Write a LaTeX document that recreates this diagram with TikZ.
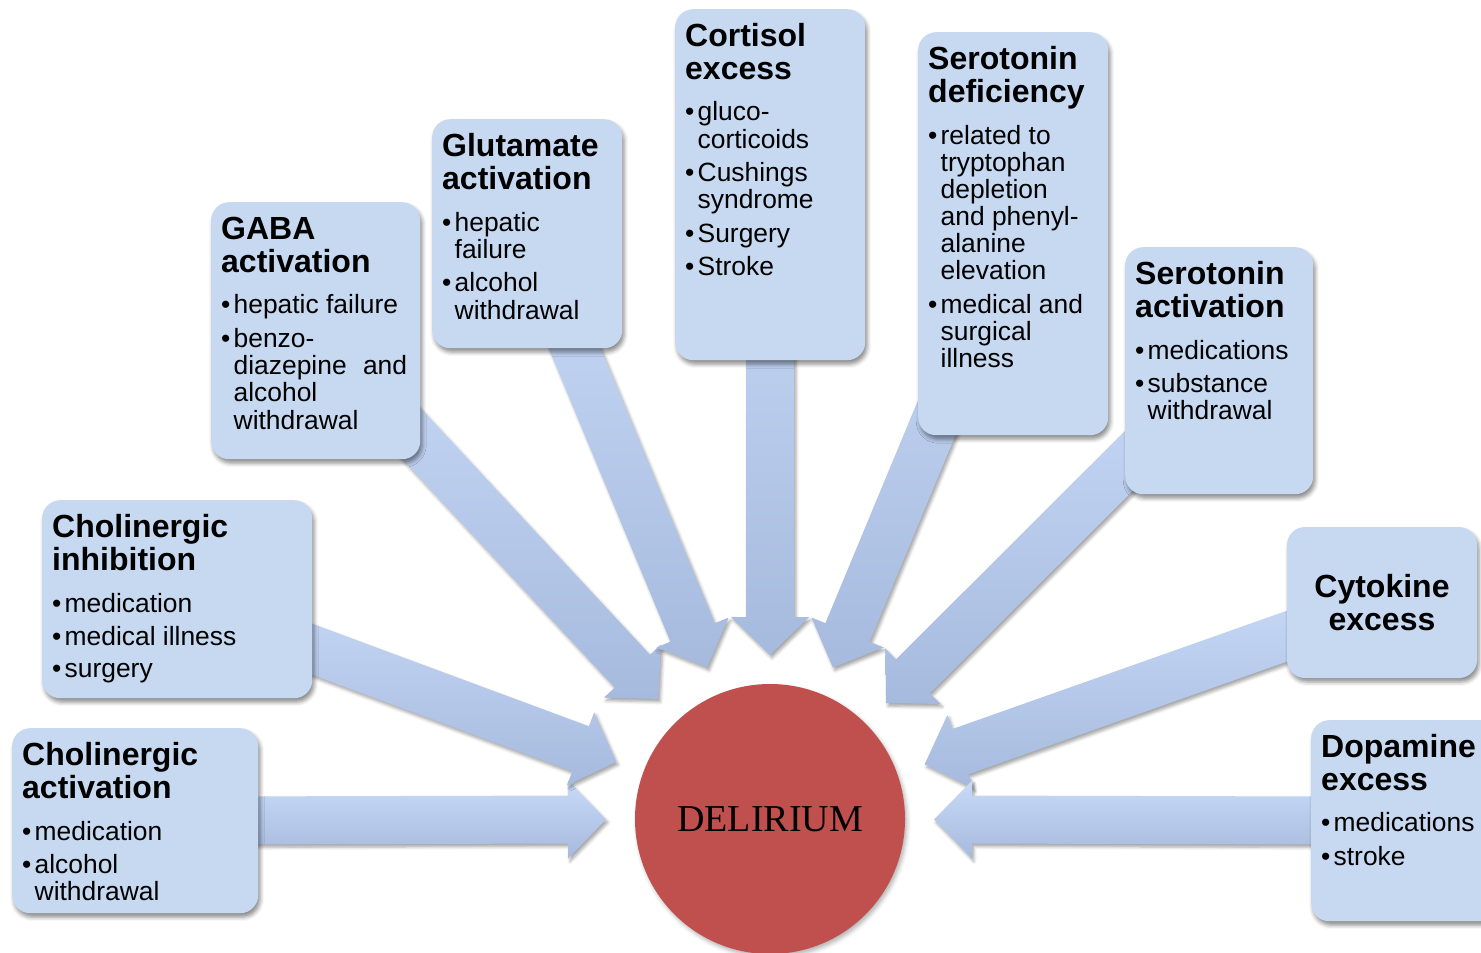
\documentclass[tikz,border=0pt]{standalone}
\usepackage{fontspec}
\setmainfont{Liberation Sans}
\newfontfamily\delfont{Liberation Serif}
\usetikzlibrary{calc,backgrounds,shadows.blur}

\definecolor{boxblue}{RGB}{198,217,240}
\definecolor{flowtop}{RGB}{200,218,247}
\definecolor{flowbot}{RGB}{166,186,222}
\definecolor{brick}{RGB}{192,80,77}

\tikzset{cause/.style={fill=boxblue,rounded corners=18pt,inner xsep=10pt,inner ysep=14pt,
  blur shadow={shadow xshift=2pt,shadow yshift=-4pt,shadow blur radius=4pt,shadow opacity=45}}}
\tikzset{flow/.style={top color=flowtop,bottom color=flowbot,
  blur shadow={shadow xshift=2pt,shadow yshift=-3pt,shadow blur radius=3pt,shadow opacity=35}}}

% box text: bold title lines, then bullet items
\newcommand\causetext[4]{\begin{minipage}[t][#2pt][t]{#1pt}%
  {\noindent\fontsize{32}{33}\selectfont\bfseries\begin{tabular}[t]{@{}l@{}}#3\end{tabular}\par}%
  \vspace{6pt}\fontsize{26.4}{26.8}\selectfont #4\end{minipage}}
\newcommand\itm[1]{\par\vspace{5.5pt}\noindent\makebox[12.5pt][l]{\textbullet}\begin{tabular}[t]{@{}l@{}}#1\end{tabular}}

% block arrow from a box towards a tip coordinate
\newcommand\flowarrow[2]{%
  \coordinate (#2-base) at ($(#2)!38pt!(#1.center)$);
  \path[flow] ($(#1.center)!24pt!90:(#2)$) -- ($(#2-base)!24pt!90:(#2)$) -- ($(#2-base)!39pt!90:(#2)$) -- (#2)
    -- ($(#2-base)!39pt!-90:(#2)$) -- ($(#2-base)!24pt!-90:(#2)$) -- ($(#1.center)!24pt!-90:(#2)$) -- cycle;}

\begin{document}
\begin{tikzpicture}[x=1pt,y=-1pt]
	\useasboundingbox (0,0) rectangle (1481,953);
	\node [circle,fill=brick,minimum size=270pt,inner sep=0pt,
	  blur shadow={shadow xshift=2pt,shadow yshift=-3pt,shadow blur radius=4pt,shadow opacity=30}]
	  (delirium) at (770,819) {\delfont\fontsize{38}{40}\selectfont DELIRIUM};

	% causes, clockwise from bottom left
	\node [cause,anchor=north west] (cha) at (12,728)
	  {\causetext{226}{157}{Cholinergic\\activation}{\itm{medication}\itm{alcohol\\withdrawal}}};
	\node [cause,anchor=north west] (chi) at (42,500)
	  {\causetext{250}{170}{Cholinergic\\inhibition}{\itm{medication}\itm{medical illness}\itm{surgery}}};
	\node [cause,anchor=north west] (gaba) at (211,202)
	  {\causetext{189}{229}{GABA\\activation}{\itm{hepatic failure}\itm{benzo-\\diazepine\hspace{9pt} and\\alcohol\\withdrawal}}};
	\node [cause,anchor=north west] (glu) at (432,119)
	  {\causetext{170}{201}{Glutamate\\activation}{\itm{hepatic\\failure}\itm{alcohol\\withdrawal}}};
	\node [cause,anchor=north west] (cort) at (675,9)
	  {\causetext{170}{323}{Cortisol\\excess}{\itm{gluco-\\corticoids}\itm{Cushings\\syndrome}\itm{Surgery}\itm{Stroke}}};
	\node [cause,anchor=north west] (serd) at (918,32)
	  {\causetext{170}{375}{Serotonin\\deficiency}{\itm{related to\\tryptophan\\depletion\\and phenyl-\\alanine\\elevation}\itm{medical and\\surgical\\illness}}};
	\node [cause,anchor=north west] (sera) at (1125,247)
	  {\causetext{168}{219}{Serotonin\\activation}{\itm{medications}\itm{substance\\withdrawal}}};
	\node [cause,minimum width=190pt,minimum height=151pt,align=center,
	  font=\fontsize{32}{33}\selectfont\bfseries] (cyto) at (1382,602.5) {Cytokine\\excess};
	\node [cause,anchor=north west] (dopa) at (1311,720)
	  {\causetext{170}{173}{Dopamine\\excess}{\itm{medications}\itm{stroke}}};

	% block arrows pointing at the centre
	\begin{scope}[on background layer]
	\foreach \b in {cha,chi,gaba,glu,cort,serd,sera,cyto,dopa}{
		\coordinate (\b-tip) at ($(delirium.center)!164pt!(\b.center)$);
		\flowarrow{\b}{\b-tip}
	}
	\end{scope}
\end{tikzpicture}
\end{document}
